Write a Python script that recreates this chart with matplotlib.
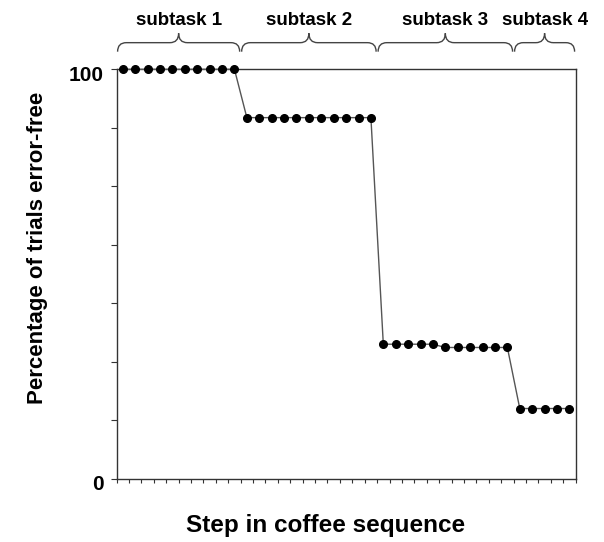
import matplotlib

matplotlib.use("Agg")
import matplotlib.pyplot as plt
import matplotlib.transforms as mtransforms
import numpy as np
from matplotlib.patches import PathPatch
from matplotlib.path import Path

plt.rcParams["font.family"] = ["Liberation Sans", "DejaVu Sans"]
plt.rcParams["font.weight"] = "bold"

# percentage of trials error-free at each step, grouped by subtask
subtask_names = ["subtask 1", "subtask 2", "subtask 3", "subtask 4"]
subtask1 = [100.0] * 10
subtask2 = [88.2] * 11
subtask3 = [32.9] * 5 + [32.1] * 6
subtask4 = [17.2] * 5
subtasks = [subtask1, subtask2, subtask3, subtask4]

y_values = np.concatenate(subtasks)
steps = np.arange(1, len(y_values) + 1)


def draw_brace(ax, x0, x1, label):
    trans = mtransforms.blended_transform_factory(ax.transData, ax.transAxes)
    xm = (x0 + x1) / 2
    r = 0.7
    y_end, y_arm, y_tip = 1.043, 1.065, 1.088
    verts = [
        (x0, y_end), (x0, y_arm), (x0 + r, y_arm),
        (xm - r, y_arm),
        (xm, y_arm), (xm, y_tip),
        (xm, y_arm), (xm + r, y_arm),
        (x1 - r, y_arm),
        (x1, y_arm), (x1, y_end),
    ]
    codes = [
        Path.MOVETO, Path.CURVE3, Path.CURVE3,
        Path.LINETO,
        Path.CURVE3, Path.CURVE3,
        Path.CURVE3, Path.CURVE3,
        Path.LINETO,
        Path.CURVE3, Path.CURVE3,
    ]
    patch = PathPatch(Path(verts, codes), transform=trans, facecolor="none",
                      edgecolor="#444444", lw=1.0, clip_on=False)
    ax.add_patch(patch)
    ax.text(xm, 1.12, label, transform=trans, ha="center", va="center",
            fontsize=13.5, fontweight="bold")


fig = plt.figure(figsize=(6.04, 5.42), dpi=100)
ax = fig.add_axes([116.6 / 604, 1 - 479 / 542, 459 / 604, 409.7 / 542])

ax.plot(steps, y_values, color="#555555", lw=1.0, marker="o", markersize=5.5,
        markerfacecolor="black", markeredgecolor="black", clip_on=False,
        zorder=3)

ax.set_xlim(0.5, len(y_values) + 0.5)
ax.set_ylim(0, 100)

ax.set_xticks(np.arange(0.5, len(y_values) + 1.0, 1.0))
ax.set_xticklabels([])
ax.set_yticks(np.linspace(0, 100, 8))
ax.set_yticklabels(["0", "", "", "", "", "", "", "100"])
ax.tick_params(axis="x", direction="out", length=3, width=0.8, color="#333333")
ax.tick_params(axis="y", direction="out", length=4, width=0.8, color="#333333",
               pad=5, labelsize=15)
offset = mtransforms.ScaledTranslation(0, -4 / 100, fig.dpi_scale_trans)
for lab in ax.get_yticklabels():
    lab.set_transform(lab.get_transform() + offset)
    lab.set_fontweight("bold")

for spine in ax.spines.values():
    spine.set_color("#333333")
    spine.set_linewidth(1.0)

ax.set_xlabel("Step in coffee sequence", fontsize=17.5, fontweight="bold")
ax.xaxis.set_label_coords(0.455, -0.085)
ax.set_ylabel("Percentage of trials error-free", fontsize=16, fontweight="bold")
ax.yaxis.set_label_coords(-0.15, 0.564)

start = 0.5
for name, vals in zip(subtask_names, subtasks):
    end = start + len(vals)
    draw_brace(ax, start + 0.08, end - 0.08, name)
    start = end

fig.savefig("out.png", dpi=100)
